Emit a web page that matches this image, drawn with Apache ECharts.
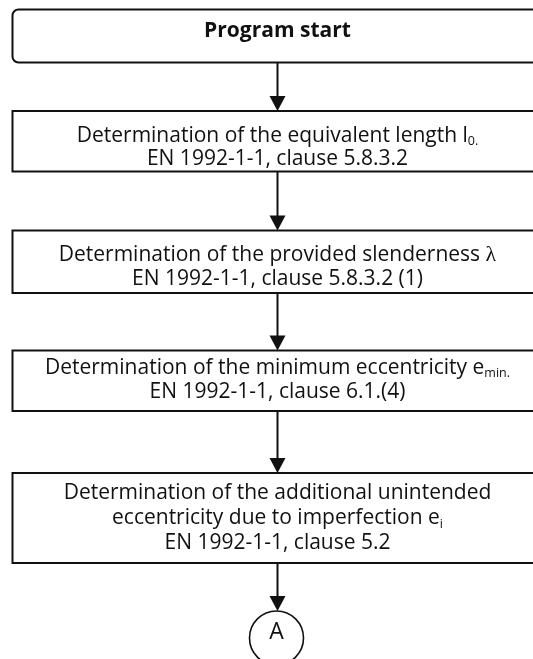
<!DOCTYPE html>
<html lang="en">
<head>
<meta charset="utf-8">
<title>Program flow</title>
<script src="https://cdn.jsdelivr.net/npm/echarts@6/dist/echarts.min.js"></script>
<style>
  html, body { margin: 0; padding: 0; background: #fff; }
  #main { width: 533px; height: 659px; }
</style>
</head>
<body>
<div id="main"></div>
<script>
// flowchart steps, top to bottom (rich text: n = normal, b = bold, s = subscript, g = greek)
const stepTexts = [
  '{b|Program start}',
  '{n|Determination of the equivalent length l}{s|0.}\n{n|EN 1992-1-1, clause 5.8.3.2}',
  '{n|Determination of the provided slenderness }{g|λ}\n{n|EN 1992-1-1, clause 5.8.3.2 (1)}',
  '{n|Determination of the minimum eccentricity e}{s|min.}\n{n|EN 1992-1-1, clause 6.1.(4)}',
  '{n|Determination of the additional unintended}\n{n|eccentricity due to imperfection e}{s|i}\n{n|EN 1992-1-1, clause 5.2}'
];
const connectorLabel = 'A';

// layout in chart units (1 unit = 1 px here)
const boxLeft = 12.5, boxRight = 542, flowX = 277.5;
const boxTop     = [9.5, 111, 230.5, 350.5, 473];
const boxBottom  = [62.5, 171.5, 293, 411, 563];
const textY      = [31, 147.5, 267, 380, 518];
const lineHeight = [24, 23, 24, 24, 25];
const circle = { y: 638, r: 27, labelY: 632 };

const font = '"Open Sans", "DejaVu Sans", sans-serif';
function richFor(lh) {
  return {
    n: { fontSize: 21, fontFamily: font, lineHeight: lh, fill: '#111' },
    b: { fontSize: 21, fontFamily: font, fontWeight: 'bold', lineHeight: lh, fill: '#111' },
    s: { fontSize: 12.5, fontFamily: font, lineHeight: 13, verticalAlign: 'bottom', fill: '#111' },
    g: { fontSize: 22, fontFamily: '"Liberation Serif", serif', lineHeight: lh, fill: '#111' }
  };
}

const chart = echarts.init(document.getElementById('main'), null, { renderer: 'canvas' });

function boxItem(params, api) {
  const i = params.dataIndex;
  const p0 = api.coord([boxLeft, boxTop[i]]);
  const p1 = api.coord([boxRight, boxBottom[i]]);
  const t = api.coord([flowX, textY[i]]);
  return {
    type: 'group',
    children: [{
      type: 'rect',
      shape: { x: p0[0], y: p0[1], width: p1[0] - p0[0], height: p1[1] - p0[1], r: i === 0 ? 6 : 0 },
      style: { fill: '#fff', stroke: '#111', lineWidth: 2 }
    }, {
      type: 'text',
      style: {
        text: stepTexts[i], rich: richFor(lineHeight[i]), x: t[0], y: t[1],
        align: 'center', verticalAlign: 'middle'
      }
    }]
  };
}

// arrows: from the bottom of step i to the top of the next one (or to the connector)
function arrowItem(params, api) {
  const i = params.dataIndex;
  const yEnd = i + 1 < stepTexts.length ? boxTop[i + 1] : circle.y - circle.r;
  const a = api.coord([flowX, boxBottom[i]]);
  const b = api.coord([flowX, yEnd]);
  return {
    type: 'group',
    children: [{
      type: 'line',
      shape: { x1: a[0], y1: a[1], x2: b[0], y2: b[1] - 8 },
      style: { stroke: '#111', lineWidth: 2 }
    }, {
      type: 'polygon',
      shape: { points: [[b[0] - 8, b[1] - 15], [b[0] + 8, b[1] - 15], [b[0], b[1]]] },
      style: { fill: '#111' }
    }]
  };
}

function connectorItem(params, api) {
  const c = api.coord([flowX - 1, circle.y]);
  const l = api.coord([flowX - 1, circle.labelY]);
  return {
    type: 'group',
    children: [{
      type: 'circle',
      shape: { cx: c[0], cy: c[1], r: circle.r },
      style: { fill: '#fff', stroke: '#111', lineWidth: 1.6 }
    }, {
      type: 'text',
      style: {
        text: connectorLabel, x: l[0], y: l[1], align: 'center', verticalAlign: 'middle',
        fontSize: 23, fontFamily: font, fill: '#111'
      }
    }]
  };
}

const option = {
  animation: false,
  grid: { left: 0, right: 0, top: 0, bottom: 0 },
  xAxis: { type: 'value', min: 0, max: 533, show: false },
  yAxis: { type: 'value', min: 0, max: 659, inverse: true, show: false },
  series: [
    {
      type: 'custom', name: 'arrows', renderItem: arrowItem, clip: false,
      data: stepTexts.map((_, i) => i)
    },
    {
      type: 'custom', name: 'steps', renderItem: boxItem, clip: false,
      data: stepTexts.map((_, i) => i)
    },
    {
      type: 'custom', name: 'connector', renderItem: connectorItem, clip: false,
      data: [0]
    }
  ]
};

chart.setOption(option);
</script>
</body>
</html>
